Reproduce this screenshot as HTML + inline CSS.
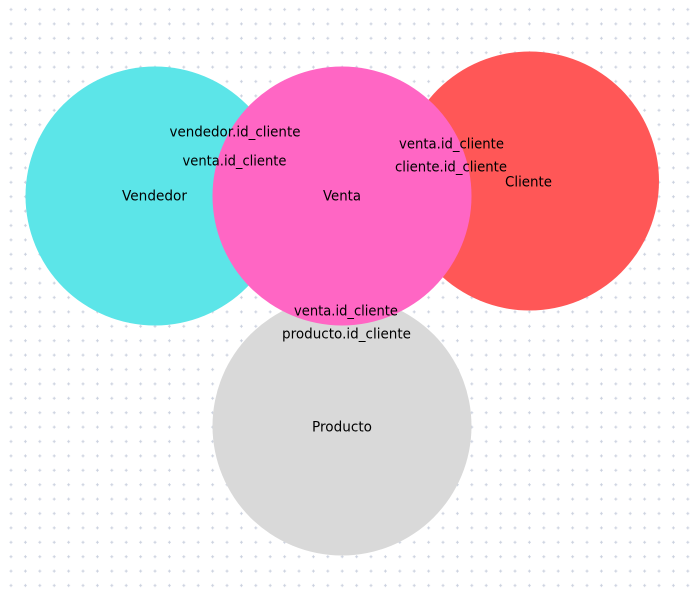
<!DOCTYPE html>
<html lang="es">
<head>
<meta charset="utf-8">
<title>Diagrama de relaciones</title>
<style>
html,body{margin:0;padding:0;background:#fff;width:691px;height:594px;overflow:hidden}
svg{display:block}
text{font-family:"DejaVu Sans","Liberation Sans",sans-serif;font-size:14px;fill:#000;text-anchor:middle;dominant-baseline:central}
</style>
</head>
<body>
<svg width="691" height="594" viewBox="0 0 691 594" xmlns="http://www.w3.org/2000/svg">
  <defs>
    <pattern id="dots" x="3.6" y="2.3" width="14.4" height="14.4" patternUnits="userSpaceOnUse">
      <path d="M7.4 5.7v3M5.9 7.2h3" stroke="#cbd1df" stroke-width="1" fill="none"/>
    </pattern>
  </defs>
  <rect width="691" height="594" fill="#fff"/>
  <rect width="691" height="594" fill="url(#dots)"/>
  <circle cx="155" cy="196" r="129.5" fill="#5ce5e8"/>
  <circle cx="529.5" cy="181" r="129.5" fill="#ff5757"/>
  <circle cx="342" cy="426" r="129.5" fill="#d9d9d9"/>
  <circle cx="342" cy="196" r="129.5" fill="#ff66c4"/>
  <text x="154.5" y="196.5" textLength="65" lengthAdjust="spacingAndGlyphs">Vendedor</text>
  <text x="342" y="196.5" textLength="38" lengthAdjust="spacingAndGlyphs">Venta</text>
  <text x="528.5" y="182.5" textLength="47" lengthAdjust="spacingAndGlyphs">Cliente</text>
  <text x="342" y="427.5" textLength="60" lengthAdjust="spacingAndGlyphs">Producto</text>
  <text x="235" y="132.5" textLength="131" lengthAdjust="spacingAndGlyphs">vendedor.id_cliente</text>
  <text x="234.5" y="161.5" textLength="104" lengthAdjust="spacingAndGlyphs">venta.id_cliente</text>
  <text x="451.5" y="144.5" textLength="105" lengthAdjust="spacingAndGlyphs">venta.id_cliente</text>
  <text x="451" y="167.5" textLength="112" lengthAdjust="spacingAndGlyphs">cliente.id_cliente</text>
  <text x="346" y="311.5" textLength="104" lengthAdjust="spacingAndGlyphs">venta.id_cliente</text>
  <text x="346.5" y="334.5" textLength="129" lengthAdjust="spacingAndGlyphs">producto.id_cliente</text>
</svg>
</body>
</html>
